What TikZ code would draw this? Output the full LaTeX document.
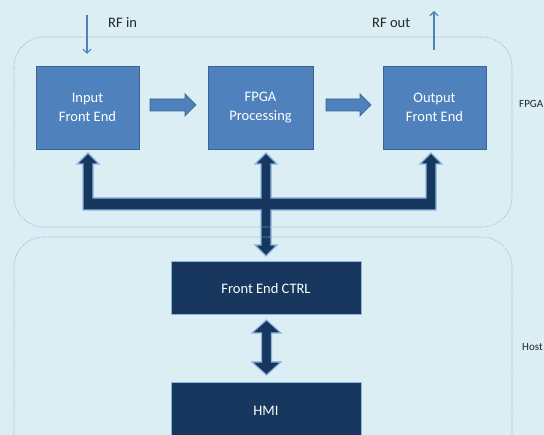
\documentclass[tikz,border=0pt]{standalone}
\usepackage{fontspec}
\setmainfont{Carlito}
\usetikzlibrary{arrows.meta}
\definecolor{bgblue}{HTML}{DAEEF3}
\definecolor{boxblue}{HTML}{4F81BD}
\definecolor{boxedge}{HTML}{3A6494}
\definecolor{navy}{HTML}{17375E}
\definecolor{busedge}{HTML}{8EB4E3}
\definecolor{groupline}{HTML}{9DB9E0}
\tikzset{
  blockbox/.style={draw=boxedge, line width=0.9pt, fill=boxblue, text=white,
    minimum width=103pt, minimum height=83pt, align=center, inner sep=0pt,
    font=\fontsize{14.5}{18.5}\selectfont},
  hostbox/.style={draw=busedge, line width=1pt, fill=navy, text=white,
    minimum width=190pt, align=center, inner sep=0pt,
    font=\fontsize{14.5}{18.5}\selectfont},
  groupbox/.style={draw=groupline, line width=0.6pt, dash pattern=on 1.5pt off 1pt,
    rounded corners=30pt},
  flowarrow/.style={fill=boxblue, draw=boxedge, line width=0.7pt},
  busarrow/.style={fill=navy, draw=busedge, line width=1.1pt, line join=miter},
  rfline/.style={draw=boxblue, line width=1.3pt,
    -{Straight Barb[length=4pt,width=8pt,line width=1.2pt]}},
  rflabel/.style={text=black!85, font=\fontsize{14.5}{17}\selectfont, inner sep=0pt},
  grouplabel/.style={text=black!85, font=\fontsize{11}{13}\selectfont, inner sep=0pt, anchor=west}
}
\begin{document}
\begin{tikzpicture}[x=1pt,y=-1pt]
  \useasboundingbox (0,0) rectangle (544,435);
  \clip (0,0) rectangle (544,435);
  \fill[bgblue] (0,0) rectangle (544,435);

  % processing blocks
  \node[blockbox] (inp)  at (87.5,107.5) {Input\\Front End};
  \node[blockbox, minimum width=105pt] (fpga) at (260.5,107.5) {FPGA\\Processing};
  \node[blockbox] (outp) at (434.5,107.5) {Output\\Front End};

  % host blocks
  \node[hostbox, minimum height=53pt] (ctrl) at (266,288.5) {Front End CTRL};
  \node[hostbox, minimum height=80pt, text depth=0pt] (hmi) at (266,423) {};
  \node[text=white, font=\fontsize{14.5}{17}\selectfont] (hmilabel) at (266,411) {HMI};

  % data flow arrows between blocks
  \draw[flowarrow] (150,99) -- (185,99) -- (185,94) -- (196,105) -- (185,116)
    -- (185,111) -- (150,111) -- cycle;
  \draw[flowarrow] (326,99) -- (360,99) -- (360,94) -- (371,105) -- (360,116)
    -- (360,111) -- (326,111) -- cycle;

  % control bus
  \draw[busarrow] (88,153) -- (99,164) -- (93,164) -- (93,198) -- (261,198)
    -- (261,164) -- (255,164) -- (266,153) -- (277,164) -- (271,164) -- (271,198)
    -- (426,198) -- (426,164) -- (420,164) -- (431,153) -- (442,164) -- (436,164)
    -- (436,210) -- (271,210) -- (271,245) -- (277,245) -- (266,256) -- (255,245)
    -- (261,245) -- (261,210) -- (83,210) -- (83,164) -- (77,164) -- cycle;

  % link between control and HMI
  \draw[busarrow] (266.5,320) -- (281,333) -- (271.5,333) -- (271.5,362)
    -- (281,362) -- (266.5,375) -- (252,362) -- (261.5,362) -- (261.5,333)
    -- (252,333) -- cycle;

  % groups
  \draw[groupbox] (14,37) rectangle (512,227);
  \draw[groupbox] (14,237) rectangle (512,480);
  \node[grouplabel] (fpgalabel) at (519,104) {FPGA};
  \node[grouplabel] (hostlabel) at (522,347) {Host};

  % RF ports
  \coordinate (rfin)  at (87,15);
  \coordinate (rfout) at (434,11);
  \draw[rfline] (rfin) -- (87,54);
  \draw[rfline] (434,50) -- (rfout);
  \node[rflabel, anchor=west] (rfinlabel)  at (108,23) {RF in};
  \node[rflabel, anchor=west] (rfoutlabel) at (372,23) {RF out};
\end{tikzpicture}
\end{document}
